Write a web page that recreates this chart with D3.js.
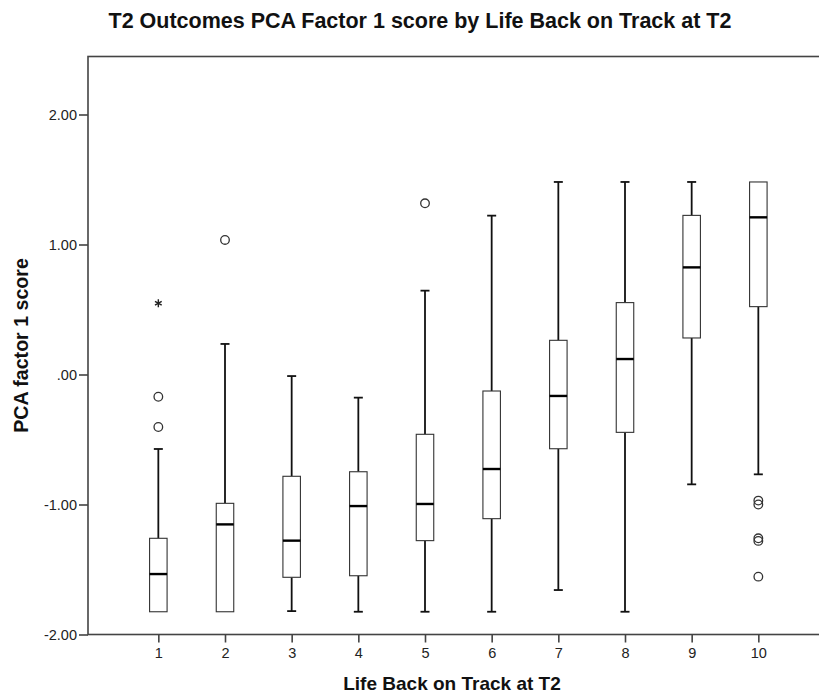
<!DOCTYPE html>
<html>
<head>
<meta charset="utf-8">
<script src="https://cdn.jsdelivr.net/npm/d3@7"></script>
<style>
  html, body { margin: 0; padding: 0; background: #fff; }
  svg { display: block; }
</style>
</head>
<body>
<script>
// Life Back on Track at T2 (1-10)
const categories = [1, 2, 3, 4, 5, 6, 7, 8, 9, 10];
// Box-plot statistics of the PCA factor 1 score per category
const whiskerLow  = [-1.825, -1.825, -1.82, -1.825, -1.825, -1.825, -1.658, -1.825, -0.845, -0.768];
const q1          = [-1.825, -1.825, -1.56, -1.548, -1.278, -1.109, -0.571, -0.445,  0.281,  0.522];
const median      = [-1.535, -1.153, -1.278, -1.012, -0.996, -0.727, -0.165,  0.119,  0.824,  1.209];
const q3          = [-1.26,  -0.991, -0.783, -0.748, -0.46,  -0.127,  0.263,  0.553,  1.224,  1.481];
const whiskerHigh = [-0.573,  0.235, -0.012, -0.178,  0.645,  1.222,  1.481,  1.481,  1.481,  1.481];
// Outliers (circles) and extreme values (stars)
const outliers = [
  [-0.171, -0.404],
  [1.035],
  [], [],
  [1.317],
  [], [], [], [],
  [-0.97, -1.0, -1.26, -1.28, -1.555]
];
const extremes = [[0.548], [], [], [], [], [], [], [], [], []];
const yTicks = [2, 1, 0, -1, -2];
const yTickLabels = ["2.00", "1.00", ".00", "-1.00", "-2.00"];

const W = 819, H = 695;
// plot frame; its right edge runs past the page
const frame = { left: 88, top: 56.5, bottom: 634.5, right: 830 };

const font = "'Liberation Sans', Arial, sans-serif";
const svg = d3.select("body").append("svg")
  .attr("width", W).attr("height", H)
  .style("font-family", font);

const x = d3.scaleLinear().domain([-0.055, 10.58]).range([88, 797]);
const y = d3.scaleLinear().domain([-2, 2]).range([frame.bottom, 114.5]);

const axisColor = "#444";

svg.append("rect")
  .attr("x", frame.left).attr("y", frame.top)
  .attr("width", frame.right - frame.left)
  .attr("height", frame.bottom - frame.top)
  .attr("fill", "none").attr("stroke", axisColor).attr("stroke-width", 1.6);

// Y axis
const yAxis = svg.append("g")
  .attr("transform", `translate(${frame.left},0)`)
  .call(d3.axisLeft(y).tickValues(yTicks).tickSize(9).tickPadding(2)
    .tickFormat((d, i) => yTickLabels[i]));
yAxis.select(".domain").remove();
yAxis.selectAll(".tick line").attr("stroke", axisColor).attr("stroke-width", 1.6);
yAxis.selectAll(".tick text").attr("fill", "#222").style("font-size", "14.5px")
  .style("font-family", font);

// X axis
const xAxis = svg.append("g")
  .attr("transform", `translate(0,${frame.bottom})`)
  .call(d3.axisBottom(x).tickValues(categories).tickSize(8).tickPadding(5.5)
    .tickFormat(d3.format("d")));
xAxis.select(".domain").remove();
xAxis.selectAll(".tick line").attr("stroke", axisColor).attr("stroke-width", 1.6);
xAxis.selectAll(".tick text").attr("fill", "#222").style("font-size", "14.5px")
  .style("font-family", font);

// Boxes
const boxW = 17.5, capW = 9;
const data = categories.map((c, i) => ({
  c, lo: whiskerLow[i], q1: q1[i], med: median[i], q3: q3[i], hi: whiskerHigh[i],
  out: outliers[i], ext: extremes[i]
}));

const g = svg.append("g");
data.forEach(d => {
  const cx = x(d.c);
  const wStroke = 1.8;
  if (d.hi > d.q3) {
    g.append("line").attr("x1", cx).attr("x2", cx).attr("y1", y(d.q3)).attr("y2", y(d.hi))
      .attr("stroke", "#111").attr("stroke-width", wStroke);
    g.append("line").attr("x1", cx - capW / 2).attr("x2", cx + capW / 2)
      .attr("y1", y(d.hi)).attr("y2", y(d.hi)).attr("stroke", "#111").attr("stroke-width", wStroke);
  }
  if (d.lo < d.q1) {
    g.append("line").attr("x1", cx).attr("x2", cx).attr("y1", y(d.q1)).attr("y2", y(d.lo))
      .attr("stroke", "#111").attr("stroke-width", wStroke);
    g.append("line").attr("x1", cx - capW / 2).attr("x2", cx + capW / 2)
      .attr("y1", y(d.lo)).attr("y2", y(d.lo)).attr("stroke", "#111").attr("stroke-width", wStroke);
  }
  g.append("rect").attr("x", cx - boxW / 2).attr("y", y(d.q3))
    .attr("width", boxW).attr("height", y(d.q1) - y(d.q3))
    .attr("fill", "#fff").attr("stroke", "#333").attr("stroke-width", 1.1);
  g.append("line").attr("x1", cx - boxW / 2).attr("x2", cx + boxW / 2)
    .attr("y1", y(d.med)).attr("y2", y(d.med)).attr("stroke", "#000").attr("stroke-width", 2.4);
  d.out.forEach(v => {
    g.append("circle").attr("cx", cx).attr("cy", y(v)).attr("r", 4.3)
      .attr("fill", "none").attr("stroke", "#333").attr("stroke-width", 1.3);
  });
  d.ext.forEach(v => {
    g.append("path").attr("transform", `translate(${cx},${y(v)})`)
      .attr("d", d3.symbol(d3.symbolAsterisk, 42)())
      .attr("fill", "none").attr("stroke", "#222").attr("stroke-width", 1.4);
  });
});

// Title and axis labels
svg.append("text").attr("x", 420).attr("y", 28).attr("text-anchor", "middle")
  .style("font-size", "21.5px").style("font-weight", "bold").attr("fill", "#111")
  .text("T2 Outcomes PCA Factor 1 score by Life Back on Track at T2");

svg.append("text").attr("x", 452).attr("y", 690).attr("text-anchor", "middle")
  .style("font-size", "19px").style("font-weight", "bold").attr("fill", "#111")
  .text("Life Back on Track at T2");

svg.append("text").attr("transform", `translate(28,${(frame.top + frame.bottom) / 2}) rotate(-90)`)
  .attr("text-anchor", "middle")
  .style("font-size", "19.6px").style("font-weight", "bold").attr("fill", "#111")
  .text("PCA factor 1 score");
</script>
</body>
</html>
